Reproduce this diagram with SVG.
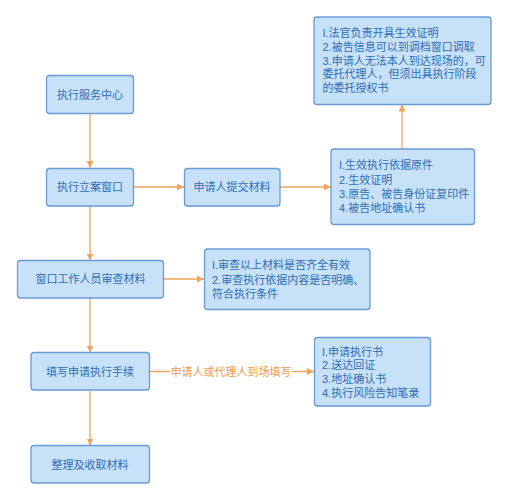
<svg xmlns="http://www.w3.org/2000/svg" width="508" height="500" viewBox="0 0 508 500">
<defs>
<style>
.box{fill:#c6e1f8;stroke:#6b9bd3;stroke-width:1.3}
.t{font-family:"Liberation Sans","Noto Sans CJK SC",sans-serif;font-size:11px;fill:#2f6db6}
.c{text-anchor:middle;dominant-baseline:central}
.e{stroke:#f0a35a;stroke-width:1.3;fill:none}
.lbl{font-family:"Liberation Sans","Noto Sans CJK SC",sans-serif;font-size:11px;fill:#ef9a4c;text-anchor:middle;dominant-baseline:central}
</style>
<marker id="ah" viewBox="0 0 10 10" refX="10" refY="5" markerWidth="7" markerHeight="7" orient="auto" markerUnits="userSpaceOnUse">
<path d="M0,0 L10,5 L0,10 z" fill="#f0a35a"/>
</marker>
</defs>
<rect width="508" height="500" fill="#ffffff"/>
<g id="connectors">
<line class="e" x1="90" y1="113.5" x2="90" y2="168" marker-end="url(#ah)"/>
<line class="e" x1="133.5" y1="187" x2="184" y2="187" marker-end="url(#ah)"/>
<line class="e" x1="280" y1="187" x2="331" y2="187" marker-end="url(#ah)"/>
<line class="e" x1="402" y1="149" x2="402" y2="104.5" marker-end="url(#ah)"/>
<line class="e" x1="90" y1="206" x2="90" y2="260.5" marker-end="url(#ah)"/>
<line class="e" x1="163.5" y1="279" x2="204" y2="279" marker-end="url(#ah)"/>
<line class="e" x1="90" y1="298" x2="90" y2="352.5" marker-end="url(#ah)"/>
<line class="e" x1="149.5" y1="371.5" x2="314" y2="371.5" marker-end="url(#ah)"/>
<line class="e" x1="90" y1="390.5" x2="90" y2="445.5" marker-end="url(#ah)"/>
<rect x="170" y="363" width="122" height="17" fill="#ffffff"/>
<text class="lbl" x="231" y="371.5">申请人或代理人到场填写</text>
</g>
<g id="n1"><rect class="box" x="46.5" y="75.5" width="87" height="38" rx="3"/><text class="t c" x="90" y="94.5">执行服务中心</text></g>
<g id="n2"><rect class="box" x="46.5" y="168.5" width="87" height="37.5" rx="3"/><text class="t c" x="90" y="187">执行立案窗口</text></g>
<g id="n3"><rect class="box" x="184.5" y="168.5" width="95.5" height="37.5" rx="3"/><text class="t c" x="232" y="187">申请人提交材料</text></g>
<g id="n4"><rect class="box" x="331" y="149" width="143.5" height="75.5" rx="3"/>
<text class="t" x="339" y="169">I.生效执行依据原件</text>
<text class="t" x="339" y="183.5">2.生效证明</text>
<text class="t" x="339" y="197.5">3.原告、被告身份证复印件</text>
<text class="t" x="339" y="211.5">4.被告地址确认书</text></g>
<g id="n5"><rect class="box" x="314" y="17" width="177" height="87.5" rx="3"/>
<text class="t" x="322.5" y="37">I.法官负责开具生效证明</text>
<text class="t" x="322.5" y="50.5">2.被告信息可以到调档窗口调取</text>
<text class="t" x="322.5" y="64.5">3.申请人无法本人到达现场的，可</text>
<text class="t" x="322.5" y="78">委托代理人，但须出具执行阶段</text>
<text class="t" x="322.5" y="91.5">的委托授权书</text></g>
<g id="n6"><rect class="box" x="17.5" y="260.5" width="146" height="37.5" rx="3"/><text class="t c" x="90.5" y="279">窗口工作人员审查材料</text></g>
<g id="n7"><rect class="box" x="204.5" y="249" width="165.5" height="60.5" rx="3"/>
<text class="t" x="212" y="268.5">I.审查以上材料是否齐全有效</text>
<text class="t" x="212" y="283.5">2.审查执行依据内容是否明确、</text>
<text class="t" x="212" y="297.5">符合执行条件</text></g>
<g id="n8"><rect class="box" x="31" y="352.5" width="118.5" height="37.5" rx="3"/><text class="t c" x="90" y="371.5">填写申请执行手续</text></g>
<g id="n9"><rect class="box" x="314.5" y="337.5" width="116" height="68.5" rx="3"/>
<text class="t" x="322" y="355.5">I.申请执行书</text>
<text class="t" x="322" y="369">2.送达回证</text>
<text class="t" x="322" y="383">3.地址确认书</text>
<text class="t" x="322" y="396.5">4.执行风险告知笔录</text></g>
<g id="n10"><rect class="box" x="31" y="445.5" width="118.5" height="37.5" rx="3"/><text class="t c" x="90" y="464.5">整理及收取材料</text></g>
</svg>
